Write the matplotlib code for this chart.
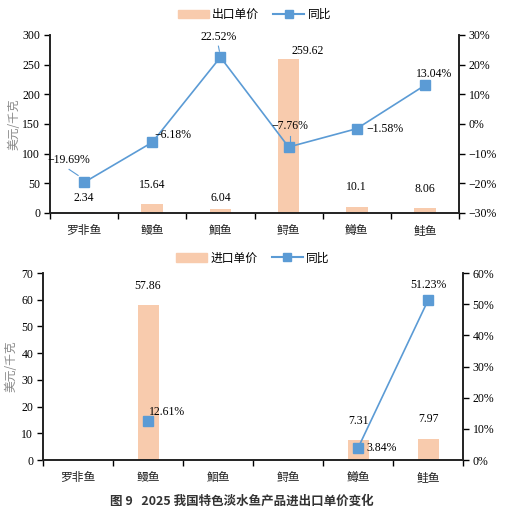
import numpy as np
import matplotlib.pyplot as plt
from matplotlib.patches import Patch
from matplotlib.lines import Line2D

plt.rcParams['font.family'] = ['Liberation Serif', 'Noto Sans CJK SC', 'DejaVu Sans']

fish = ["罗非鱼", "鳗鱼", "鮰鱼", "鲟鱼", "鳟鱼", "鲑鱼"]

export_price = [2.34, 15.64, 6.04, 259.62, 10.1, 8.06]
export_yoy = [-19.69, -6.18, 22.52, -7.76, -1.58, 13.04]

import_price = [np.nan, 57.86, np.nan, np.nan, 7.31, 7.97]
import_yoy = [np.nan, 12.61, np.nan, np.nan, 3.84, 51.23]

# label offsets in pixels (x right, y up), manual placement like the original
exp_bar_off = [(0, 8), (0, 13), (0, 5), (19, 2), (0, 14), (0, 13)]
exp_line_off = [(-15, 22), (21, 7), (-2, 20), (1, 21), (28, 0), (9, 11)]
imp_bar_off = [None, (0, 13), None, None, (0, 13), (0, 14)]
imp_line_off = [None, (19, 9), None, None, (24, 0), (0, 15)]
# leader lines from the label to the marker
leaders = {0: ((-15, 13), (-6, 7)), 2: ((-2, 11), (-1, 6)), 3: ((1, 11), (1, 5))}

bar_col = "#F8CBAD"
line_col = "#5B9BD5"
cjk = ['Noto Sans CJK SC', 'DejaVu Sans']


def fmt_num(v):
    return f"{v:g}" if v == 10.1 else f"{v:.2f}"


def pct(v):
    return f"{v:.2f}%".replace("-", "\u2212")


def style_axes(ax, ax2, yticks, yticks2, lpad):
    ax.set_xlim(-0.5, len(fish) - 0.5)
    ax.set_xticks(np.arange(-0.5, len(fish) + 0.5, 1))
    ax.set_xticklabels([])
    ax.set_xticks(np.arange(len(fish)), minor=True)
    ax.set_xticklabels(fish, minor=True, family=cjk, fontsize=8.5, color="#222222")
    ax.tick_params(axis='x', which='minor', length=0, pad=8)
    ax.tick_params(axis='x', which='major', length=4, width=1, direction='out')
    ax.set_yticks(yticks)
    ax.set_yticklabels([str(t) for t in yticks], fontsize=8.5)
    ax.set_ylim(yticks[0], yticks[-1])
    ax2.set_yticks(yticks2)
    ax2.set_yticklabels([f"{t}%".replace("-", "\u2212") for t in yticks2], fontsize=8.5)
    ax2.set_ylim(yticks2[0], yticks2[-1])
    for a in (ax, ax2):
        a.spines['top'].set_visible(False)
        for s in ('left', 'right', 'bottom'):
            a.spines[s].set_linewidth(1.2)
            a.spines[s].set_color("#222222")
        a.tick_params(axis='y', length=4, width=1, direction='out', pad=3)
    ax.set_ylabel("美元/千克", family=cjk, fontsize=8.5, color="#888888", labelpad=lpad)


fig = plt.figure(figsize=(5.14, 5.13), dpi=100)
x = np.arange(len(fish))

# export panel
ax = fig.add_axes([0.0973, 0.5848, 0.7957, 0.347])
ax2 = ax.twinx()
ax.bar(x, export_price, width=0.32, color=bar_col)
ax2.plot(x, export_yoy, color=line_col, lw=1.2, marker='s', ms=6.5, mec=line_col)
style_axes(ax, ax2, list(range(0, 301, 50)), list(range(-30, 31, 10)), 1)
for i in range(len(fish)):
    ax.annotate(fmt_num(export_price[i]), (x[i], export_price[i]), xytext=exp_bar_off[i],
                textcoords='offset pixels', ha='center', va='bottom', fontsize=8.5)
    ax2.annotate(pct(export_yoy[i]), (x[i], export_yoy[i]), xytext=exp_line_off[i],
                 textcoords='offset pixels', ha='center', va='center', fontsize=8.5)
fig.canvas.draw()
inv = ax2.transData.inverted()
for i, (a, b) in leaders.items():
    p0 = ax2.transData.transform((x[i], export_yoy[i]))
    q1 = inv.transform((p0[0] + a[0], p0[1] + a[1]))
    q2 = inv.transform((p0[0] + b[0], p0[1] + b[1]))
    ax2.plot([q1[0], q2[0]], [q1[1], q2[1]], color=line_col, lw=0.8)
ax.legend(handles=[Patch(color=bar_col, label="出口单价"),
                   Line2D([], [], color=line_col, marker='s', ms=6, label="同比")],
          loc='center', bbox_to_anchor=(0.5, 1.115), ncol=2, frameon=False,
          prop={'family': cjk, 'size': 8.5}, handlelength=2.6, columnspacing=1.2,
          handletextpad=0.3)

# import panel
bx = fig.add_axes([0.0837, 0.1033, 0.8171, 0.3645])
bx2 = bx.twinx()
bx.bar(x, import_price, width=0.3, color=bar_col)
bx2.plot(x, import_yoy, color=line_col, lw=1.2, marker='s', ms=6.5, mec=line_col)
style_axes(bx, bx2, list(range(0, 71, 10)), list(range(0, 61, 10)), 3)
for i in range(len(fish)):
    if imp_bar_off[i] is None:
        continue
    bx.annotate(f"{import_price[i]:.2f}", (x[i], import_price[i]), xytext=imp_bar_off[i],
                textcoords='offset pixels', ha='center', va='bottom', fontsize=8.5)
    bx2.annotate(pct(import_yoy[i]), (x[i], import_yoy[i]), xytext=imp_line_off[i],
                 textcoords='offset pixels', ha='center', va='center', fontsize=8.5)
bx.legend(handles=[Patch(color=bar_col, label="进口单价"),
                   Line2D([], [], color=line_col, marker='s', ms=6, label="同比")],
          loc='center', bbox_to_anchor=(0.5, 1.08), ncol=2, frameon=False,
          prop={'family': cjk, 'size': 8.5}, handlelength=2.6, columnspacing=1.2,
          handletextpad=0.3)

fig.text(0.47, 0.022, "图 9   2025 我国特色淡水鱼产品进出口单价变化", family=cjk,
         fontsize=9, fontweight='bold', ha='center', va='center', color="#333333")

fig.savefig("out.png", dpi=100)
